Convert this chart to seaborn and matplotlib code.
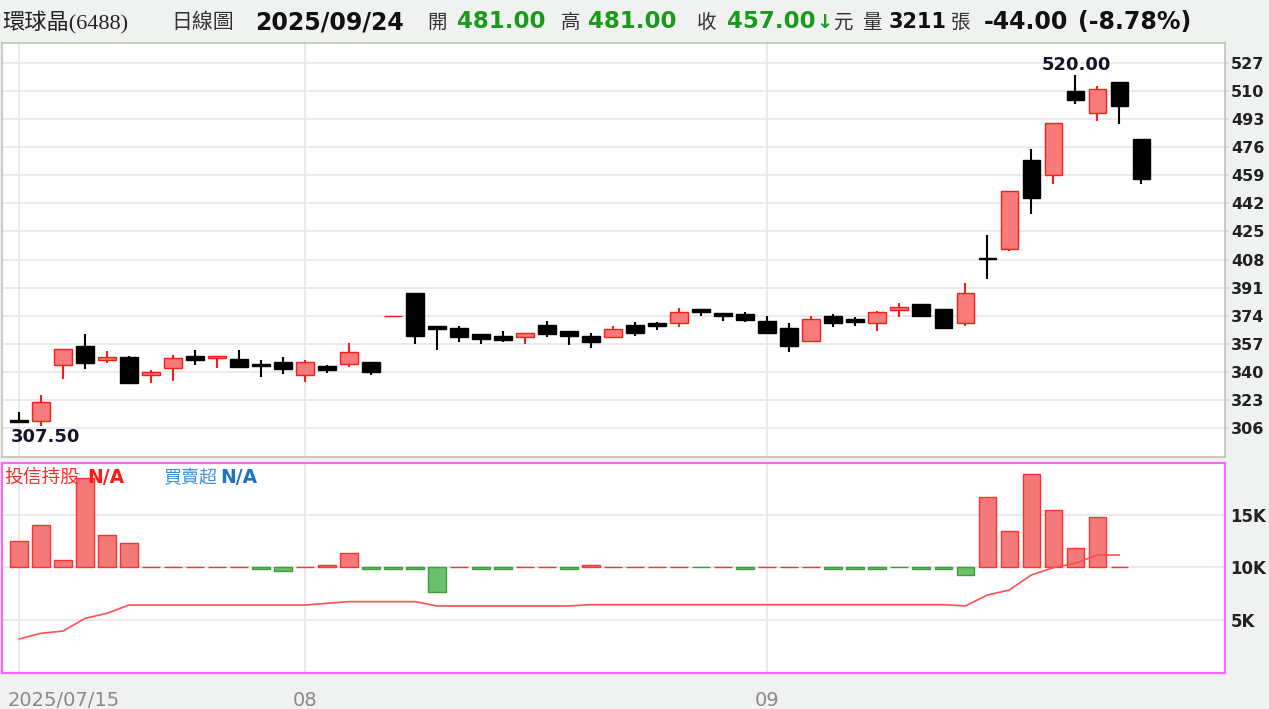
import numpy as np
import pandas as pd
import seaborn as sns
import matplotlib.pyplot as plt
from matplotlib.ticker import FuncFormatter
import matplotlib.transforms as mtransforms

# 日K資料 2025/07/15 ~ 2025/09/24
opens = [311, 310, 344, 355.5, 347, 349, 338, 342.5, 349.5, 348.5, 348, 345, 346, 338, 343.5, 345, 346, 374,
         388, 367.5, 366.5, 363, 361.5, 361, 368.5, 364.5, 361.5, 361, 368.5, 369.5, 369.5, 378, 375.5, 375,
         371, 366.5, 359, 374, 372, 369.5, 377.5, 381, 378, 369.5, 409, 414.5, 468.5, 459, 510, 496.5, 515.5, 481]
highs = [316, 326, 354, 363, 352.5, 349.5, 341, 350, 353, 349.5, 353, 347, 349, 347, 344, 357.5, 346, 374,
         388, 368, 368, 363, 364.5, 363.5, 371, 364.5, 363.5, 368, 370, 370.5, 378.5, 378, 375.5, 376,
         374, 369.5, 374, 375, 373, 377, 381.5, 381, 378, 394, 423, 449.5, 475, 490.5, 520, 513, 515.5, 481]
lows = [309.5, 307.5, 336, 342, 345.5, 332.5, 333, 334.5, 344, 342.5, 343, 337, 338.5, 334, 339.5, 343, 338, 374,
        357, 353.5, 358, 357, 358, 357, 361, 356, 354.5, 361, 362, 365.5, 367, 374, 371, 370.5,
        363, 352, 358, 367, 368, 365, 373, 374, 366.5, 368, 396.5, 413, 435.5, 454, 502, 492, 490, 454]
closes = [309.5, 322, 354, 345.5, 349, 333, 340, 348.5, 347.5, 349.5, 343, 343.5, 341.5, 346, 341, 352, 340, 374,
          362, 366, 361, 360, 359.5, 363.5, 363, 361.5, 358, 366, 363.5, 368, 376, 376, 374, 371.5,
          363.5, 355.5, 372, 369.5, 370, 376, 379, 374, 366.5, 388, 408.5, 449.5, 445.5, 490.5, 504.5, 511, 501, 457]
volume_last = 3211

# 投信買賣超(張) 與 投信持股(張)
net_buy = [375, 600, 105, 1275, 455, 340, 0, 0, 0, 0, 0, -30, -50, 0, 30, 205, -30, -30, -30, -350,
           0, -30, -30, 0, 0, -30, 30, 0, 0, 0, 0, -3, 0, -30, 0, 0, 0, -30, -30, -30, -3, -30, -30,
           -120, 1000, 515, 1335, 815, 275, 710, 0]
holdings = [3140, 3690, 3900, 5110, 5590, 6380, 6380, 6380, 6380, 6380, 6380, 6380, 6380, 6380, 6540,
            6700, 6700, 6700, 6700, 6290, 6290, 6290, 6290, 6290, 6290, 6290, 6410, 6410, 6410, 6410,
            6410, 6410, 6410, 6410, 6410, 6410, 6410, 6410, 6410, 6410, 6410, 6410, 6410, 6290, 7330,
            7810, 9240, 9940, 10350, 11140, 11140]

date_ticks = [0, 13, 34]
date_labels = ['2025/07/15', '08', '09']
price_ticks = [306, 323, 340, 357, 374, 391, 408, 425, 442, 459, 476, 493, 510, 527]
hold_ticks = [5000, 10000, 15000]

sns.set_theme(style='white')
plt.rcParams['font.family'] = ['DejaVu Sans', 'Noto Sans CJK TC']
CJK = ['Noto Sans CJK TC', 'DejaVu Sans']
BG = '#f0f1f1'
W, H = 1269, 709

fig = plt.figure(figsize=(W / 100, H / 100), dpi=100, facecolor=BG)
ax = fig.add_axes([2 / W, 1 - 457 / H, 1223 / W, 414 / H])
ax2 = fig.add_axes([2 / W, 1 - 673 / H, 1223 / W, 210 / H])
xlim = (-0.773, 54.8)

# ---- K線 ----
o, h, l, c = map(np.array, (opens, highs, lows, closes))
x = np.arange(len(o))
up = c >= o
face = np.where(up, '#f77b7b', '#000000')
edge = np.where(up, '#ff1a1a', '#000000')
ax.vlines(x, l, h, colors=edge, lw=1.5, zorder=2)
ax.bar(x, np.abs(c - o), bottom=np.minimum(o, c), width=0.8, color=face, edgecolor=edge,
       linewidth=1.0, zorder=3)

ax.set_xlim(*xlim)
ax.set_ylim(288.5, 539.1)
ax.set_facecolor('white')
ax.yaxis.tick_right()
ax.set_yticks(price_ticks)
ax.set_xticks(date_ticks)
ax.tick_params(axis='x', length=0, labelbottom=False)
ax.tick_params(axis='y', length=3, color='#d8d8d8', pad=1.5, labelsize=11.5, labelcolor='#222')
for t in ax.get_yticklabels():
    t.set_fontweight('bold')
ax.grid(True, color='#e6e6e6', lw=1.2)
ax.set_axisbelow(True)
for s in ax.spines.values():
    s.set_color('#c8c0b8')
    s.set_linewidth(1.2)

imax, imin = int(np.argmax(h)), int(np.argmin(l))
ax.annotate(f'{h[imax]:.2f}', (imax, h[imax]), xytext=(1, 10), textcoords='offset pixels',
            ha='center', va='center', fontsize=13, fontweight='bold', color='#15152a')
ax.annotate(f'{l[imin]:.2f}', (imin, l[imin]), xytext=(4, -11), textcoords='offset pixels',
            ha='center', va='center', fontsize=13, fontweight='bold', color='#15152a')

# ---- 投信 ----
nb = np.array(net_buy)
xb = np.arange(len(nb))
bface = np.where(nb >= 0, '#f47a7a', '#6cbf6c')
bedge = np.where(nb >= 0, '#ff3030', '#3a9f3a')
ax2.bar(xb, nb, width=0.8, color=bface, edgecolor=bedge, linewidth=1.0, zorder=3)
ax2.set_xlim(*xlim)
ax2.set_ylim(-1514, 1486)
ax2.set_yticks([-750, 0, 750])
ax2.tick_params(axis='y', length=0, left=False, right=False, labelleft=False, labelright=False)
ax2.set_xticks(date_ticks)
ax2.set_xticklabels(date_labels)
ax2.tick_params(axis='x', direction='out', length=8, width=1.3, color='#8a8a8a', labelcolor='#8a8a8a',
                labelsize=14, pad=5)
first = ax2.get_xticklabels()[0]
first.set_horizontalalignment('left')
first.set_transform(first.get_transform() + mtransforms.ScaledTranslation(-0.11, 0, fig.dpi_scale_trans))
ax2.grid(True, color='#e6e6e6', lw=1.2)
ax2.set_axisbelow(True)
ax2.set_facecolor('white')

ax2t = ax2.twinx()
sns.lineplot(x=np.arange(len(holdings)), y=holdings, ax=ax2t, color='#ff5050', lw=1.2)
ax2t.set_ylim(-95, 19905)
ax2t.set_yticks(hold_ticks)
ax2t.yaxis.set_major_formatter(FuncFormatter(lambda v, p: f'{int(v / 1000)}K'))
ax2t.tick_params(axis='y', length=0, left=False, pad=4, labelsize=12, labelcolor='#222')
for t in ax2t.get_yticklabels():
    t.set_fontweight('bold')
ax2t.grid(False)
ax2t.set_ylabel('')
for a in (ax2, ax2t):
    for s in a.spines.values():
        s.set_color('#ff66ff')
        s.set_linewidth(1.5)

ax2.text(0.002, 0.93, '投信持股', transform=ax2.transAxes, family=CJK, fontsize=13.5, color='#ff2a2a',
         va='center', ha='left', zorder=5)
ax2.text(85 / 1223, 0.93, 'N/A', transform=ax2.transAxes, fontsize=13.5, fontweight='bold',
         color='#ff1a1a', va='center', ha='left', zorder=5)
ax2.text(161 / 1223, 0.93, '買賣超', transform=ax2.transAxes, family=CJK, fontsize=13, color='#3d8fd1',
         va='center', ha='left', zorder=5)
ax2.text(218 / 1223, 0.93, 'N/A', transform=ax2.transAxes, fontsize=13.5, fontweight='bold',
         color='#1f72c4', va='center', ha='left', zorder=5)

# ---- 標題列 ----
chg = c[-1] - c[-2]
pct = chg / c[-2] * 100
GREEN = '#1a9a1a'
yh = 1 - 22 / H
NUM = ['DejaVu Sans']
header = [
    (2, '環球晶(6488)', ['Liberation Serif', 'Noto Sans CJK TC'], 'normal', '#222', 16),
    (171, '日線圖', CJK, 'normal', '#333', 15),
    (255, '2025/09/24', NUM, 'bold', '#111', 17),
    (427, '開', CJK, 'normal', '#333', 14),
    (457, f'{o[-1]:.2f}', NUM, 'bold', GREEN, 16.5),
    (561, '高', CJK, 'normal', '#333', 14),
    (588, f'{h[-1]:.2f}', NUM, 'bold', GREEN, 16.5),
    (697, '收', CJK, 'normal', '#333', 14),
    (727, f'{c[-1]:.2f}', NUM, 'bold', GREEN, 16.5),
    (816, '↓', NUM, 'bold', GREEN, 14),
    (833, '元', CJK, 'normal', '#333', 14),
    (862, '量', CJK, 'normal', '#333', 14),
    (889, f'{volume_last}', NUM, 'bold', '#111', 15),
    (951, '張', CJK, 'normal', '#333', 14),
    (984, f'{chg:.2f}', NUM, 'bold', '#111', 17),
    (1078, f'({pct:.2f}%)', NUM, 'bold', '#111', 17),
]
for px, s, fam, wt, col, fs in header:
    fig.text(px / W, yh, s, family=fam, fontweight=wt, color=col, fontsize=fs, ha='left', va='center')

fig.savefig('out.png', dpi=100, facecolor=BG)
